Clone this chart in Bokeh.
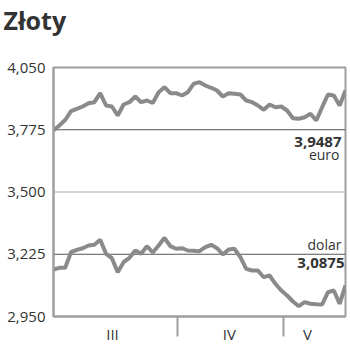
from bokeh.plotting import figure
from bokeh.models import Range1d, FixedTicker, CustomJSTickFormatter, Span, Label, Title
from bokeh.embed import file_html
from bokeh.resources import INLINE

title = "Złoty"
euro_name = "euro"
dolar_name = "dolar"

# trading-day closing rates, March - May
euro = [3.7717, 3.7938, 3.8180, 3.8569, 3.8676, 3.8777, 3.8923, 3.8967, 3.9365, 3.8821,
        3.8777, 3.8379, 3.8865, 3.8967, 3.9219, 3.8967, 3.9042, 3.8932, 3.9409, 3.9630,
        3.9365, 3.9365, 3.9263, 3.9409, 3.9780, 3.9851, 3.9705, 3.9603, 3.9484, 3.9219,
        3.9365, 3.9338, 3.9307, 3.9042, 3.8967, 3.8821, 3.8631, 3.8865, 3.8746, 3.8777,
        3.8600, 3.8260, 3.8234, 3.8304, 3.8455, 3.8159, 3.8746, 3.9307, 3.9263, 3.8821,
        3.9487]
dolar = [3.1576, 3.1651, 3.1651, 3.2340, 3.2446, 3.2517, 3.2636, 3.2667, 3.2888, 3.2270,
         3.2075, 3.1457, 3.1899, 3.2093, 3.2416, 3.2270, 3.2606, 3.2327, 3.2636, 3.2977,
         3.2606, 3.2491, 3.2517, 3.2416, 3.2402, 3.2385, 3.2561, 3.2667, 3.2517, 3.2239,
         3.2460, 3.2491, 3.2120, 3.1607, 3.1532, 3.1532, 3.1236, 3.1311, 3.0945, 3.0649,
         3.0428, 3.0163, 2.9955, 3.0132, 3.0061, 3.0045, 3.0030, 3.0573, 3.0649, 3.0061,
         3.0875]
days = list(range(len(euro)))

y_ticks = [2.95, 3.225, 3.5, 3.775, 4.05]
dark_grid = [3.225, 3.775]
light_grid = [3.5]
month_names = ["III", "IV", "V"]
month_bounds = [21.3, 39.3]
month_centers = [10.1, 30.1, 43.5]

FONT = "Open Sans"
TXT = "#333333"
LINE = "#8a8a8a"
FRAME = "#9e9e9e"

p = figure(width=350, height=351, output_backend="svg", toolbar_location=None,
           x_range=Range1d(0, len(euro) - 1), y_range=Range1d(y_ticks[0], y_ticks[-1]),
           min_border_left=53, min_border_right=5, min_border_top=67, min_border_bottom=35)
p.background_fill_color = "white"
p.border_fill_color = "white"
p.outline_line_color = FRAME
p.outline_line_width = 2
p.xgrid.visible = False
p.ygrid.visible = False

# spacer between the frame and the title
p.add_layout(Title(text=" ", text_font_size="1px", standoff=28), "above")

p.title.text = title
p.title.text_font = FONT
p.title.text_font_size = "25px"
p.title.text_font_style = "bold"
p.title.text_color = TXT
p.title.align = "left"
p.title.offset = -50
p.title.standoff = 0

ya = p.yaxis[0]
ya.ticker = FixedTicker(ticks=y_ticks)
ya.formatter = CustomJSTickFormatter(code="return tick.toFixed(3).replace('.', ',');")
ya.major_tick_line_color = None
ya.minor_tick_line_color = None
ya.axis_line_color = FRAME
ya.axis_line_width = 2
ya.major_label_standoff = 2
ya.major_label_text_font = FONT
ya.major_label_text_font_size = "15px"
ya.major_label_text_color = TXT

xa = p.xaxis[0]
xa.ticker = FixedTicker(ticks=month_centers, minor_ticks=month_bounds)
xa.major_label_overrides = {c: n for c, n in zip(month_centers, month_names)}
xa.major_tick_in = 0
xa.major_tick_out = 0
xa.major_tick_line_color = None
xa.minor_tick_in = 0
xa.minor_tick_out = 20
xa.minor_tick_line_color = FRAME
xa.minor_tick_line_width = 2
xa.axis_line_color = FRAME
xa.axis_line_width = 2
xa.major_label_standoff = -13
xa.major_label_text_font = FONT
xa.major_label_text_font_size = "15px"
xa.major_label_text_color = TXT

for g in dark_grid:
    p.add_layout(Span(location=g, dimension="width", line_color="#555555",
                      line_width=1, level="underlay"))
for g in light_grid:
    p.add_layout(Span(location=g, dimension="width", line_color="#d4d4d4",
                      line_width=2, level="underlay"))

p.line(days, euro, line_color=LINE, line_width=4)
p.line(days, dolar, line_color=LINE, line_width=4)

def fmt(v):
    return f"{v:.4f}".replace(".", ",")

last = days[-1]
p.add_layout(Label(x=last, y=dark_grid[1], x_offset=-4, y_offset=-12, text=fmt(euro[-1]),
                   text_align="right", text_baseline="alphabetic", text_font=FONT,
                   text_font_size="15px", text_font_style="bold", text_color=TXT))
p.add_layout(Label(x=last, y=dark_grid[1], x_offset=-6, y_offset=-25, text=euro_name,
                   text_align="right", text_baseline="alphabetic", text_font=FONT,
                   text_font_size="14px", text_color=TXT))
p.add_layout(Label(x=last, y=dark_grid[0], x_offset=-4, y_offset=10, text=dolar_name,
                   text_align="right", text_baseline="alphabetic", text_font=FONT,
                   text_font_size="14px", text_color=TXT))
p.add_layout(Label(x=last, y=dark_grid[0], x_offset=-1, y_offset=-9, text=fmt(dolar[-1]),
                   text_align="right", text_baseline="alphabetic", text_font=FONT,
                   text_font_size="15px", text_font_style="bold", text_color=TXT))

open("out.html", "w").write(file_html(p, INLINE))
